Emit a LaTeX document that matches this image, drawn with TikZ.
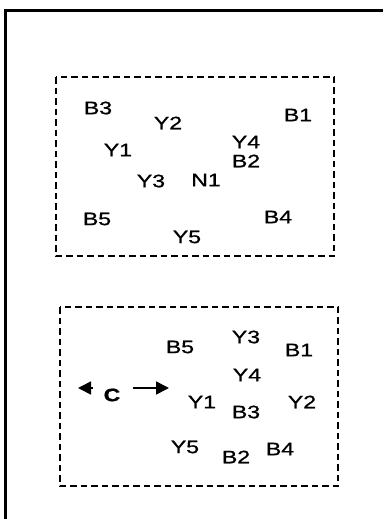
\documentclass[tikz,border=0pt]{standalone}
\usepackage{fontspec}
\setmainfont{Liberation Sans}[FakeStretch=1.28,FakeBold=1]
\usetikzlibrary{arrows.meta}
\begin{document}
\begin{tikzpicture}[x=1pt,y=-1pt,
  lbl/.style={inner sep=0pt,font=\fontsize{18}{20}\selectfont},
  boldlbl/.style={inner sep=0pt,font=\fontsize{18}{20}\selectfont\bfseries},
  region/.style={draw,line width=1.6pt,dash pattern=on 6.5pt off 4pt},
  frame/.style={draw,line width=2.2pt},
  arr/.style={line width=1.6pt,-{Triangle[length=13pt,width=13pt]}}]
\useasboundingbox (0,0) rectangle (383,519);
% outer frame (cut off at right and bottom)
\coordinate (fTR) at (383,10.5);
\coordinate (fTL) at (5.5,10.5);
\coordinate (fBL) at (5.5,519);
\draw[frame] (fTR) -- (fTL) -- (fBL);
% top region
\draw[region] (56,77) rectangle (334,256);
\node[lbl] (tB3) at (98,108) {B3};
\node[lbl] (tY2) at (168,123) {Y2};
\node[lbl] (tB1) at (298,115) {B1};
\node[lbl] (tY1) at (118,150) {Y1};
\node[lbl] (tY4) at (246,142) {Y4};
\node[lbl] (tB2) at (246,161) {B2};
\node[lbl] (tY3) at (151,181) {Y3};
\node[lbl] (tN1) at (206,180) {N1};
\node[lbl] (tB5) at (97,219) {B5};
\node[lbl] (tB4) at (278,217) {B4};
\node[lbl] (tY5) at (187,237) {Y5};
% bottom region
\draw[region] (60,307) rectangle (338,486);
\node[lbl] (bY3) at (246,337) {Y3};
\node[lbl] (bB5) at (180,347) {B5};
\node[lbl] (bB1) at (299,350) {B1};
\node[lbl] (bY4) at (247,375) {Y4};
\node[boldlbl] (C) at (112,395) {C};
\node[lbl] (bY1) at (202,402) {Y1};
\node[lbl] (bB3) at (246,412) {B3};
\node[lbl] (bY2) at (302,402) {Y2};
\node[lbl] (bY5) at (185,447) {Y5};
\node[lbl] (bB2) at (236,457) {B2};
\node[lbl] (bB4) at (280,449) {B4};
% arrows
\coordinate (aLs) at (93,388);
\coordinate (aLe) at (78,388);
\coordinate (aRs) at (133,388);
\coordinate (aRe) at (169,388);
\draw[arr] (aLs) -- (aLe);
\draw[arr] (aRs) -- (aRe);
\end{tikzpicture}
\end{document}
